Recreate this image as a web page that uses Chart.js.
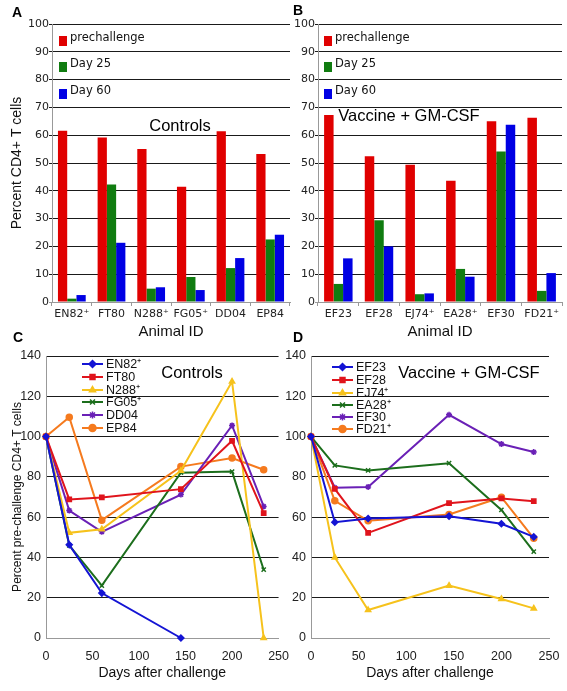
<!DOCTYPE html>
<html>
<head>
<meta charset="utf-8">
<script src="https://cdn.jsdelivr.net/npm/chart.js@4.4.1/dist/chart.umd.min.js"></script>
<style>
  body { margin: 0; background: #fff; }
  #wrap { position: relative; width: 567px; height: 691px; background: #fff; overflow: hidden; }
  canvas { position: absolute; }
  .tag { position: absolute; font: bold 14px "Liberation Sans", Arial, sans-serif; color: #000; }
</style>
</head>
<body>
<div id="wrap">
  <canvas id="chartA" width="292" height="343" style="left:0;top:0"></canvas>
  <canvas id="chartB" width="275" height="343" style="left:292px;top:0"></canvas>
  <canvas id="chartC" width="292" height="348" style="left:0;top:343px"></canvas>
  <canvas id="chartD" width="283" height="348" style="left:284px;top:343px"></canvas>
  <div class="tag" style="left:12px;top:4px">A</div>
  <div class="tag" style="left:293px;top:2px">B</div>
  <div class="tag" style="left:13px;top:329px">C</div>
  <div class="tag" style="left:293px;top:329px">D</div>
</div>
<script>
// ---- data ----
const controlIds = ['EN82⁺', 'FT80', 'N288⁺', 'FG05⁺', 'DD04', 'EP84'];
const vaccineIds = ['EF23', 'EF28', 'EJ74⁺', 'EA28⁺', 'EF30', 'FD21⁺'];
const barSeries = ['prechallenge', 'Day 25', 'Day 60'];

// percent CD4+ T cells (panels A, B)
const ctrlPre   = [61.6, 59.2, 55.0, 41.5, 61.4, 53.2];
const ctrlDay25 = [1.2, 42.3, 4.8, 9.0, 12.2, 22.5];
const ctrlDay60 = [2.5, 21.3, 5.3, 4.3, 15.8, 24.2];
const vacPre    = [67.3, 52.4, 49.4, 43.6, 65.0, 66.3];
const vacDay25  = [6.5, 29.4, 2.8, 11.9, 54.1, 4.0];
const vacDay60  = [15.7, 20.0, 3.1, 9.1, 63.8, 10.4];

// percent of pre-challenge CD4+ T cells (panels C, D)
const days = [0, 25, 60, 145, 200, 234];
const en82 = [100, 46.3, 22.3, 0];
const ft80 = [100, 68.8, 69.8, 73.9, 97.9, 62.0];
const n288 = [100, 52.2, 54.0, 83.0, 127.3, 0];
const fg05 = [100, 46.0, 26.0, 82.1, 82.6, 33.9];
const dd04 = [100, 63.3, 52.7, 71.2, 105.5, 65.3];
const ep84 = [100, 109.6, 58.5, 85.1, 89.3, 83.5];

const ef23 = [100, 57.5, 59.3, 60.5, 56.7, 50.2];
const ef28 = [100, 74.0, 52.2, 66.9, 69.3, 67.9];
const ej74 = [100, 40.0, 13.9, 26.0, 19.4, 14.7];
const ea28 = [100, 85.7, 83.2, 86.8, 63.6, 42.9];
const ef30 = [100, 74.6, 75.0, 110.8, 96.3, 92.3];
const fd21 = [100, 68.1, 58.2, 61.3, 69.9, 49.5];

const barColors = ['#e00000', '#107c10', '#0000e4'];
const lineColors = ['#1414d4', '#e0141c', '#f6c21c', '#1c6e1c', '#6a20b6', '#f57a1e'];
const lineMarks = ['rectRot', 'rect', 'triangle', 'crossRot', 'star', 'circle'];

const SANS = '"Liberation Sans", Arial, sans-serif';
const DEJA = '"DejaVu Sans", Verdana, sans-serif';

// captions + in-plot legends
const panelText = {
  id: 'panelText',
  afterDraw(chart, args, o) {
    const ctx = chart.ctx;
    ctx.save();
    ctx.font = '16.5px ' + SANS;
    ctx.fillStyle = '#000';
    ctx.textAlign = 'center';
    ctx.textBaseline = 'middle';
    ctx.fillText(o.caption, o.capX, o.capY);
    ctx.textAlign = 'left';
    chart.data.datasets.forEach(function (ds, i) {
      const y = o.rows[i];
      if (o.kind === 'box') {
        ctx.fillStyle = ds.backgroundColor;
        ctx.fillRect(o.legX, y - 5, 8, 10);
        ctx.fillStyle = '#111';
        ctx.font = '11.5px ' + DEJA;
        ctx.fillText(ds.label, o.legX + 11, y - 3);
      } else {
        ctx.strokeStyle = ds.borderColor;
        ctx.fillStyle = ds.borderColor;
        ctx.lineWidth = 2;
        ctx.beginPath();
        ctx.moveTo(o.legX, y);
        ctx.lineTo(o.legX + 21, y);
        ctx.stroke();
        ctx.lineWidth = 1.5;
        Chart.helpers.drawPoint(ctx, { pointStyle: ds.pointStyle, radius: 3.5, borderWidth: 1.5, rotation: 0 }, o.legX + 10.5, y);
        ctx.fillStyle = '#111';
        ctx.font = '12.5px ' + SANS;
        ctx.fillText(ds.label, o.legX + 24, y + 0.5);
      }
    });
    ctx.restore();
  }
};

function barChart(id, labels, pre, d25, d60, axisW, padRight, yTitle, text) {
  const vals = [pre, d25, d60];
  return new Chart(document.getElementById(id), {
    type: 'bar',
    data: {
      labels: labels,
      datasets: barSeries.map(function (s, i) {
        return { label: s, data: vals[i], backgroundColor: barColors[i], borderWidth: 0 };
      })
    },
    options: {
      responsive: false,
      animation: false,
      layout: { padding: { top: 24, right: padRight, bottom: 0, left: 0 } },
      datasets: { bar: { categoryPercentage: 0.7, barPercentage: 1 } },
      plugins: { legend: { display: false }, tooltip: { enabled: false }, panelText: text },
      scales: {
        x: {
          grid: { drawOnChartArea: false, tickLength: 4, color: '#999' },
          border: { color: '#999' },
          ticks: { font: { family: DEJA, size: 11 }, color: '#222', padding: 2, maxRotation: 0, autoSkip: false },
          title: { display: true, text: 'Animal ID', font: { family: SANS, size: 15 }, color: '#111', padding: { top: 0, bottom: 2 } },
          afterFit: function (s) { s.height = 41; }
        },
        y: {
          min: 0, max: 100,
          ticks: { stepSize: 10, font: { family: DEJA, size: 11 }, color: '#222', padding: 0 },
          grid: { color: function (c) { return c.tick.value === 0 ? '#999' : '#1a1a1a'; }, tickLength: 3 },
          border: { color: '#999' },
          title: { display: yTitle, text: 'Percent CD4+ T cells', font: { family: SANS, size: 14 }, color: '#111', padding: { top: 9, bottom: 0 } },
          afterFit: function (s) { s.width = axisW; }
        }
      }
    },
    plugins: [panelText]
  });
}

function lineChart(id, names, series, axisW, padRight, yTitle, text) {
  return new Chart(document.getElementById(id), {
    type: 'line',
    data: {
      datasets: names.map(function (n, i) {
        return {
          label: n,
          data: series[i].map(function (v, k) { return { x: days[k], y: v }; }),
          borderColor: lineColors[i],
          backgroundColor: lineColors[i],
          pointStyle: lineMarks[i],
          pointRadius: 3,
          pointBorderWidth: 1.5,
          borderWidth: 2,
          tension: 0,
          clip: false
        };
      })
    },
    options: {
      responsive: false,
      animation: false,
      layout: { padding: { top: 13, right: padRight, bottom: 8, left: 0 } },
      plugins: { legend: { display: false }, tooltip: { enabled: false }, panelText: text },
      scales: {
        x: {
          type: 'linear', min: 0, max: 250,
          grid: { display: false },
          border: { color: '#999' },
          ticks: { stepSize: 50, font: { family: SANS, size: 12.5 }, color: '#222', padding: 3, maxRotation: 0 },
          title: { display: true, text: 'Days after challenge', font: { family: SANS, size: 14 }, color: '#111', padding: { top: 0, bottom: 1 } },
          afterFit: function (s) { s.height = 45; }
        },
        y: {
          min: 0, max: 140,
          ticks: { stepSize: 20, font: { family: SANS, size: 12.5 }, color: '#222', padding: 5 },
          grid: { color: function (c) { return c.tick.value === 0 ? '#999' : '#1a1a1a'; }, drawTicks: false },
          border: { color: '#999' },
          title: { display: yTitle, text: 'Percent pre-challenge CD4+ T cells', font: { family: SANS, size: 12 }, color: '#111', padding: { top: 10, bottom: 0 } },
          afterFit: function (s) { s.width = axisW; }
        }
      }
    },
    plugins: [panelText]
  });
}

barChart('chartA', controlIds, ctrlPre, ctrlDay25, ctrlDay60, 52, 2, true,
  { caption: 'Controls', capX: 180, capY: 126, kind: 'box', legX: 59, rows: [41, 67, 94] });
barChart('chartB', vaccineIds, vacPre, vacDay25, vacDay60, 26, 5, false,
  { caption: 'Vaccine + GM-CSF', capX: 117, capY: 116, kind: 'box', legX: 32, rows: [41, 67, 94] });

lineChart('chartC', controlIds, [en82, ft80, n288, fg05, dd04, ep84], 46, 9, true,
  { caption: 'Controls', capX: 192, capY: 30, kind: 'line', legX: 82, rows: [21, 34, 47, 59, 72, 85] });
lineChart('chartD', vaccineIds, [ef23, ef28, ej74, ea28, ef30, fd21], 27, 18, false,
  { caption: 'Vaccine + GM-CSF', capX: 185, capY: 30, kind: 'line', legX: 48, rows: [24, 37, 50, 62, 74, 86] });
</script>
</body>
</html>
